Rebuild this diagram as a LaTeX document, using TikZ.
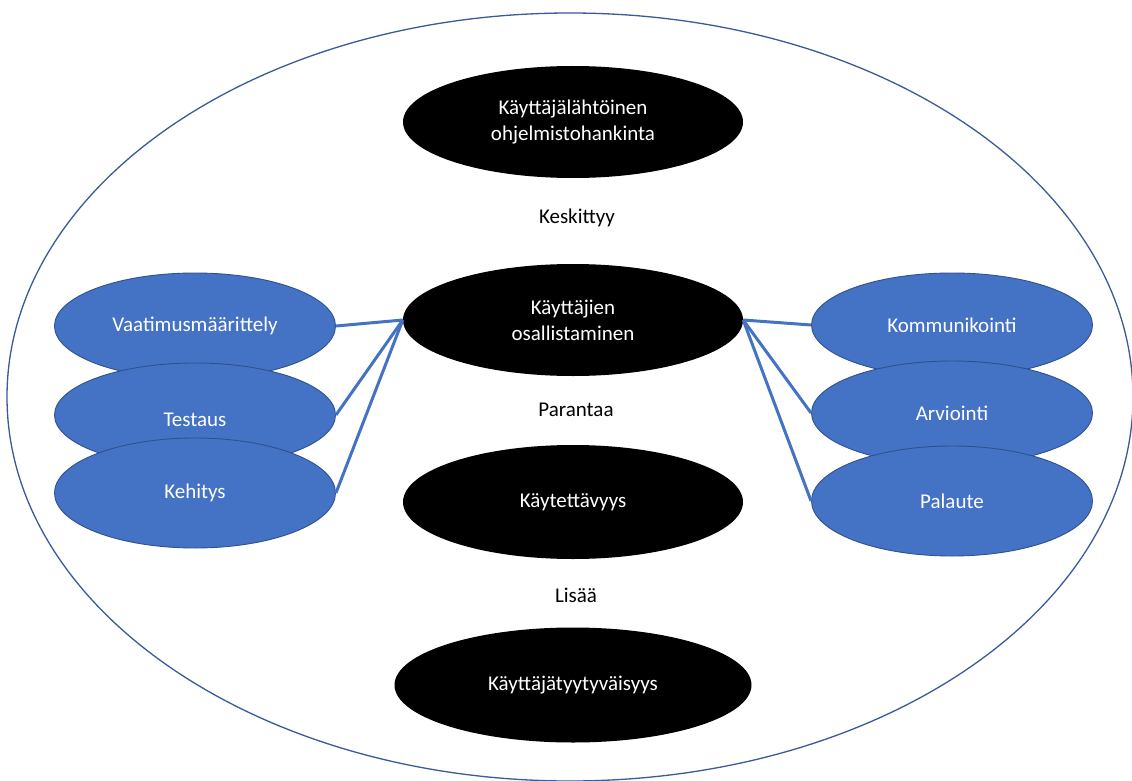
\documentclass[tikz,border=0pt]{standalone}
\usepackage{fontspec}
\setmainfont{Carlito}
\usetikzlibrary{shapes.geometric}
\definecolor{ublue}{HTML}{4472C4}
\definecolor{ublueline}{HTML}{2F528F}
\definecolor{outerline}{HTML}{3A5A98}
\begin{document}
\begin{tikzpicture}[x=1pt,y=-1pt,
  blackov/.style={ellipse,fill=black,text=white,inner sep=0pt,align=center,font=\fontsize{21}{26}\selectfont},
  blueov/.style={ellipse,fill=ublue,draw=ublueline,line width=0.9pt,text=white,inner sep=0pt,minimum width=281pt,minimum height=104pt,font=\fontsize{21}{26}\selectfont},
  lbl/.style={font=\fontsize{21}{26}\selectfont,text=black},
  conn/.style={draw=ublue,line width=3pt}]
\useasboundingbox (0,0) rectangle (1132,781);
\fill[white] (0,0) rectangle (1132,781);
\draw[outerline,line width=1.3pt] (570,397) ellipse [x radius=563, y radius=384];
% black ovals
\node[blackov,minimum width=340pt,minimum height=112pt] (top) at (573,122) {Käyttäjälähtöinen\\ohjelmistohankinta};
\node[blackov,minimum width=340pt,minimum height=112pt] (mid) at (573,320) {Käyttäjien\\osallistaminen};
\node[blackov,minimum width=340pt,minimum height=114pt] (use) at (573,502) {Käytettävyys};
\node[blackov,minimum width=357pt,minimum height=115pt] (sat) at (573,685) {Käyttäjätyytyväisyys};
% labels
\node[lbl] (k1) at (577,218) {Keskittyy};
\node[lbl] (k2) at (576,410) {Parantaa};
\node[lbl] (k3) at (576,595) {Lisää};
% left blue
\node[blueov,minimum height=106pt] (vaat) at (195,326) {Vaatimusmäärittely};
\node[blueov] (test) at (195,415) {};
\node[lbl,text=white] at (195,420) {Testaus};
\node[blueov,minimum height=110pt] (keh) at (195,493) {Kehitys};
% right blue
\node[blueov,minimum height=104pt] (komm) at (952,325) {Kommunikointi};
\node[blueov] (arv) at (952,413) {Arviointi};
\node[blueov,minimum height=110pt] (pal) at (952,501) {Palaute};
% connectors
\draw[conn] (mid.west) -- (vaat.east);
\draw[conn] (mid.west) -- (test.east);
\draw[conn] (mid.west) -- (keh.east);
\draw[conn] (mid.east) -- (komm.west);
\draw[conn] (mid.east) -- (arv.west);
\draw[conn] (mid.east) -- (pal.west);
\end{tikzpicture}
\end{document}
